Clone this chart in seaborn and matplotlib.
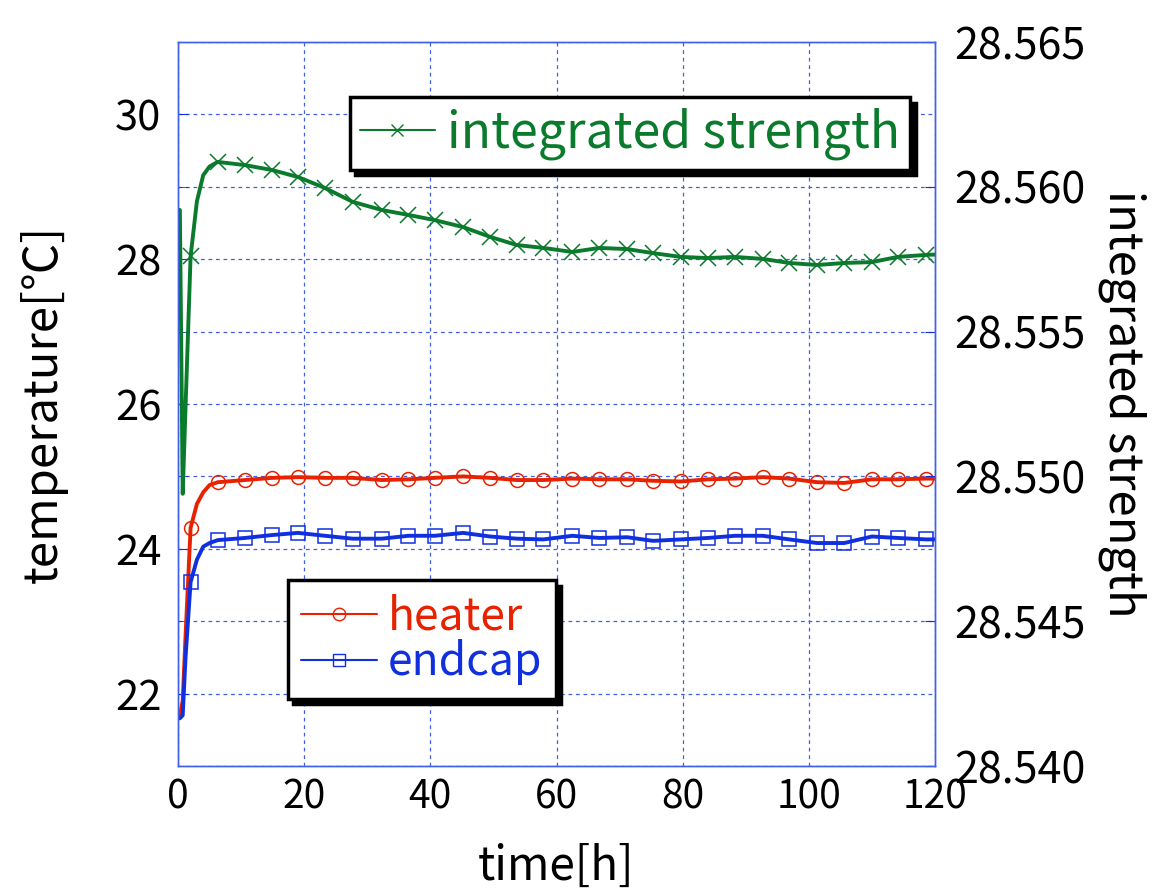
import numpy as np
import matplotlib
matplotlib.use("Agg")
import matplotlib.pyplot as plt
from matplotlib.lines import Line2D
from matplotlib.ticker import MultipleLocator, FormatStrFormatter
import seaborn as sns

# Data
time_h = [0, 0.3, 0.75, 1.2, 2.0, 3.0, 4.0, 5.0,
          6.3, 10.6, 14.9, 19.0, 23.3, 27.7, 32.3, 36.5, 40.7, 45.2,
          49.5, 53.7, 57.9, 62.5, 66.8, 71.2, 75.3, 79.7, 84.0, 88.3,
          92.7, 96.9, 101.3, 105.6, 110.0, 114.1, 118.6, 120]

marker_times = [2.0, 6.3, 10.6, 14.9, 19.0, 23.3, 27.7, 32.3, 36.5, 40.7,
                45.2, 49.5, 53.7, 57.9, 62.5, 66.8, 71.2, 75.3, 79.7, 84.0,
                88.3, 92.7, 96.9, 101.3, 105.6, 110.0, 114.1, 118.6]

heater = [21.70, 21.70, 21.90, 22.80, 24.29, 24.62, 24.78, 24.88,
          24.92, 24.95, 24.98, 24.99, 24.98, 24.98, 24.95, 24.96, 24.98, 25.00,
          24.98, 24.95, 24.95, 24.97, 24.96, 24.96, 24.94, 24.93, 24.96, 24.97,
          24.99, 24.97, 24.92, 24.91, 24.96, 24.96, 24.97, 24.97]

endcap = [21.66, 21.66, 21.70, 22.50, 23.54, 23.85, 24.03, 24.08,
          24.12, 24.15, 24.19, 24.22, 24.18, 24.14, 24.14, 24.18, 24.18, 24.22,
          24.17, 24.14, 24.13, 24.18, 24.15, 24.16, 24.11, 24.13, 24.15, 24.18,
          24.18, 24.13, 24.08, 24.08, 24.17, 24.15, 24.13, 24.13]

strength = [28.5592, 28.5592, 28.5494, 28.5524, 28.5576, 28.5595, 28.5604, 28.5607,
            28.56086, 28.56075, 28.56058, 28.56034, 28.55996, 28.55948, 28.55920,
            28.55903, 28.55885, 28.55861, 28.55827, 28.55799, 28.55789, 28.55775,
            28.55789, 28.55785, 28.55771, 28.55758, 28.55754, 28.55758, 28.55751,
            28.55737, 28.55730, 28.55737, 28.55740, 28.55758, 28.55765, 28.55766]

RED = "#e82200"
BLUE = "#1030e0"
GREEN = "#0a7a2c"
GRID = "#4060e8"

sns.set_style("white")
plt.rcParams["font.family"] = ["Noto Sans CJK JP", "DejaVu Sans"]
plt.rcParams["text.color"] = "black"
plt.rcParams["axes.labelcolor"] = "black"

mark_idx = [i for i, t in enumerate(time_h) if t in marker_times]

fig = plt.figure(figsize=(11.64, 8.90), dpi=100)
ax = fig.add_axes([0.1529, 0.1393, 0.6504, 0.8135])
ax2 = ax.twinx()

line_kw = dict(linewidth=2.8, markevery=mark_idx, markersize=10,
               markerfacecolor="none", markeredgewidth=1.1)
sns.lineplot(x=time_h, y=heater, ax=ax, color=RED, marker="o",
             markeredgecolor=RED, legend=False, **line_kw)
sns.lineplot(x=time_h, y=endcap, ax=ax, color=BLUE, marker="s",
             markeredgecolor=BLUE, legend=False, **line_kw)
sns.lineplot(x=time_h, y=strength, ax=ax2, color=GREEN, marker="x",
             markeredgecolor=GREEN, legend=False,
             **{**line_kw, "markersize": 11})

# axes limits / ticks
ax.set_xlim(0, 120)
ax.set_ylim(21, 31)
ax2.set_ylim(28.540, 28.565)
ax.xaxis.set_major_locator(MultipleLocator(20))
ax.yaxis.set_major_locator(MultipleLocator(2))
ax.yaxis.set_minor_locator(MultipleLocator(1))
ax2.yaxis.set_major_locator(MultipleLocator(0.005))
ax2.yaxis.set_major_formatter(FormatStrFormatter("%.3f"))

ax.grid(True, which="major", axis="x", color=GRID, linestyle=(0, (3, 3)), linewidth=0.9)
ax.grid(True, which="both", axis="y", color=GRID, linestyle=(0, (3, 3)), linewidth=0.9)

for a in (ax, ax2):
    for s in a.spines.values():
        s.set_color(GRID)
        s.set_linewidth(1.0)
ax.tick_params(axis="both", which="both", direction="in", color=BLUE, length=7,
               labelcolor="black")
ax.tick_params(axis="x", pad=8, labelsize=28)
ax.tick_params(axis="y", pad=12, labelsize=30)
ax2.tick_params(axis="y", direction="in", color=BLUE, length=7,
                labelsize=31, labelcolor="black", pad=14)

ax.set_xlabel("time[h]", fontsize=33, labelpad=18)
ax.set_ylabel("temperature[℃]", fontsize=34, labelpad=34)
ax2.set_ylabel("integrated strength", fontsize=34, rotation=270, labelpad=44)

# legends
shadow = {"ox": 4, "oy": -4, "facecolor": "black", "edgecolor": "black", "alpha": 1}
h_kw = dict(linewidth=1.5, markersize=9, markerfacecolor="none", markeredgewidth=1.0)
h_heat = Line2D([], [], color=RED, marker="o", markeredgecolor=RED, **h_kw)
h_end = Line2D([], [], color=BLUE, marker="s", markeredgecolor=BLUE, **h_kw)
h_str = Line2D([], [], color=GREEN, marker="x", markeredgecolor=GREEN, **h_kw)

leg1 = ax.legend([h_heat, h_end], ["heater", "endcap"], loc="upper left",
                 bbox_to_anchor=(0.145, 0.257), borderaxespad=0, fontsize=32,
                 labelcolor="linecolor", fancybox=False, framealpha=1,
                 edgecolor="black", shadow=shadow, handlelength=1.7,
                 handletextpad=0.25, borderpad=0.3, labelspacing=0.0)
leg1.get_frame().set_linewidth(2.5)

leg2 = ax2.legend([h_str], ["integrated strength"], loc="upper right",
                  bbox_to_anchor=(0.967, 0.924), borderaxespad=0, fontsize=36,
                  labelcolor="linecolor", fancybox=False, framealpha=1,
                  edgecolor="black", shadow=shadow, handlelength=1.5,
                  handletextpad=0.25, borderpad=0.2)
leg2.get_frame().set_linewidth(2.5)

fig.savefig("out.png", dpi=100)
